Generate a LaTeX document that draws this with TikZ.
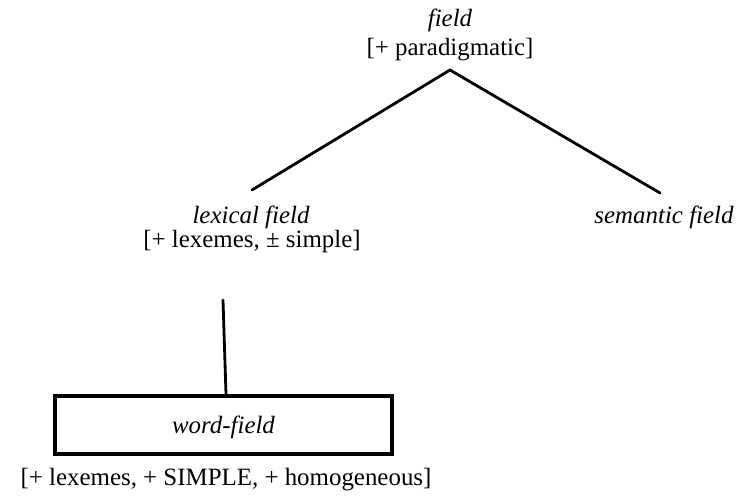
\documentclass[tikz,border=0pt]{standalone}
\usepackage{fontspec}
\setmainfont{Liberation Serif}
\begin{document}
\begin{tikzpicture}[x=1bp,y=-1bp,
  lbl/.style={font=\fontsize{25}{29}\selectfont, inner sep=0pt, anchor=base},
  edge/.style={line width=2.8bp, line cap=round},
  boxed/.style={draw, line width=3.2bp, minimum width=337bp, minimum height=58bp, inner sep=0pt}]
\useasboundingbox (0,0) rectangle (741,497);
\node[lbl] (field) at (450,27) {\itshape field};
\node[lbl] (fieldf) at (450,56) {[+ paradigmatic]};
\node[lbl] (lex) at (251,224) {\itshape lexical field};
\node[lbl] (lexf) at (252,248) {[+ lexemes, ± simple]};
\node[lbl] (sem) at (664,224) {\itshape semantic field};
\node[boxed] (word) at (223.5,425) {};
\node[lbl] (wordt) at (223.5,433) {\itshape word-field};
\node[lbl] (wordf) at (226,485) {[+ lexemes, + SIMPLE, + homogeneous]};
\coordinate (apex) at (450,70);
\coordinate (lend) at (252,190);
\coordinate (rend) at (660,193);
\coordinate (vtop) at (223,300);
\draw[edge] (lend) -- (apex) -- (rend);
\draw[edge] (vtop) -- (word.north -| 226,0);
\end{tikzpicture}
\end{document}
